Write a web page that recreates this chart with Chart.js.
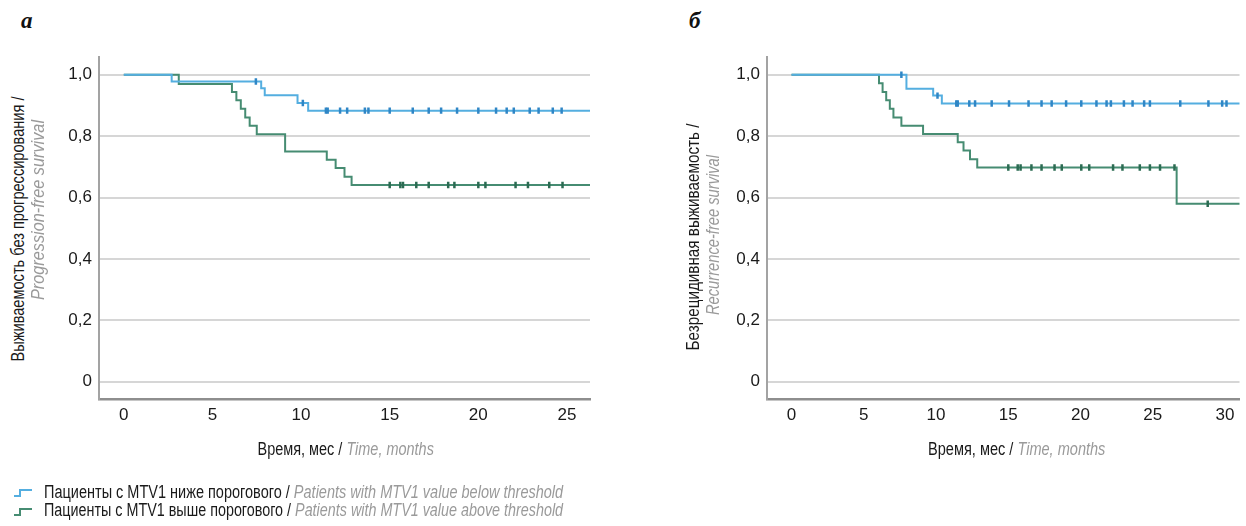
<!DOCTYPE html>
<html>
<head>
<meta charset="utf-8">
<script src="https://cdn.jsdelivr.net/npm/chart.js@4.4.1/dist/chart.umd.min.js"></script>
<style>
  html, body { margin:0; padding:0; background:#fff; width:1246px; height:526px; overflow:hidden; }
  body { position:relative; font-family:"Liberation Sans","Arial",sans-serif; color:#1a1a1a; }
  .abs { position:absolute; }
  .panel { font-family:"Liberation Serif","DejaVu Serif",serif; font-weight:bold; font-style:italic; font-size:23px; color:#111; }
  .fit { position:absolute; white-space:nowrap; font-size:18px; line-height:1; }
  .gray { color:#9a9a9a; font-style:italic; }
</style>
</head>
<body>
<script>
// ---------- DATA ----------
// Panel а: progression-free survival (time, months)
const pfsLowTimes  = [0, 2.7, 7.75, 7.95, 9.8, 10.4, 27];
const pfsLowSurv   = [1, 0.978, 0.956, 0.933, 0.908, 0.883, 0.883];
const pfsLowCensor = [7.45, 10.1, 11.4, 11.5, 12.2, 12.6, 13.6, 13.8, 15.0, 16.3, 17.2, 17.9, 18.8, 20.0, 21.0, 21.6, 22.0, 22.9, 23.4, 24.2, 24.7];

const pfsHighTimes  = [0, 3.1, 6.1, 6.35, 6.6, 6.85, 7.1, 7.5, 9.1, 11.45, 11.95, 12.45, 12.85, 27];
const pfsHighSurv   = [1, 0.97, 0.944, 0.917, 0.889, 0.861, 0.834, 0.806, 0.750, 0.723, 0.696, 0.668, 0.641, 0.641];
const pfsHighCensor = [15.0, 15.6, 15.75, 16.5, 17.2, 18.3, 18.65, 20.0, 20.4, 22.1, 22.8, 24.0, 24.75];

// Panel б: recurrence-free survival
const rfsLowTimes  = [0, 7.95, 9.8, 10.4, 32];
const rfsLowSurv   = [1, 0.954, 0.932, 0.906, 0.906];
const rfsLowCensor = [7.6, 10.1, 11.4, 11.5, 12.3, 12.7, 13.85, 15.05, 16.4, 17.3, 18.0, 19.0, 20.05, 21.1, 21.8, 22.1, 23.0, 23.6, 24.4, 24.8, 26.9, 28.85, 29.8, 30.1];

const rfsHighTimes  = [0, 6.05, 6.3, 6.55, 6.8, 7.05, 7.6, 9.1, 11.5, 11.9, 12.35, 12.85, 26.65, 32];
const rfsHighSurv   = [1, 0.972, 0.944, 0.917, 0.889, 0.861, 0.834, 0.807, 0.78, 0.753, 0.725, 0.698, 0.58, 0.58];
const rfsHighCensor = [15.0, 15.65, 15.85, 16.6, 17.3, 18.2, 18.7, 20.05, 20.6, 22.25, 22.9, 24.1, 24.8, 25.5, 26.5, 28.8];

const yTicks = [0, 0.2, 0.4, 0.6, 0.8, 1.0];
const yTickLabels = ['0', '0,2', '0,4', '0,6', '0,8', '1,0'];
const xTicksA = [0, 5, 10, 15, 20, 25];
const xTicksB = [0, 5, 10, 15, 20, 25, 30];

const blue = '#54aee0', blueDark = '#2f86c6';
const green = '#468c72', greenDark = '#2b6b52';
const FONT = '"Liberation Sans","Arial",sans-serif';

function levelAt(T, S, t) { let v = S[0]; for (let i = 0; i < T.length; i++) { if (T[i] <= t) v = S[i]; } return v; }
function curve(T, S) { return T.map((t, i) => ({x: t, y: S[i]})); }
function cens(T, S, C) { return C.map(t => ({x: t, y: levelAt(T, S, t)})); }

function makeChart(cfg) {
  const wrap = document.createElement('div');
  wrap.className = 'abs';
  wrap.style.left = cfg.left + 'px'; wrap.style.top = cfg.top + 'px';
  wrap.style.width = cfg.w + 'px'; wrap.style.height = cfg.h + 'px';
  const cv = document.createElement('canvas');
  cv.width = cfg.w; cv.height = cfg.h;
  wrap.appendChild(cv); document.body.appendChild(wrap);
  const line = (data, color) => ({type:'line', data, borderColor:color, borderWidth:2, stepped:'before', pointRadius:0, fill:false, order:2});
  const marks = (data, color) => ({type:'scatter', data, borderColor:color, backgroundColor:color, pointStyle:'line', rotation:90, pointRadius:3.2, borderWidth:2.5, order:1});
  new Chart(cv, {
    type:'line',
    data:{datasets:[
      line(curve(cfg.lowT, cfg.lowS), blue),
      line(curve(cfg.highT, cfg.highS), green),
      marks(cens(cfg.lowT, cfg.lowS, cfg.lowC), blueDark),
      marks(cens(cfg.highT, cfg.highS, cfg.highC), greenDark)
    ]},
    options:{
      responsive:false, animation:false, events:[],
      layout:{padding:{left:0, right:cfg.padRight, top:10, bottom:0}},
      plugins:{legend:{display:false}, tooltip:{enabled:false}},
      scales:{
        x:{type:'linear', min:cfg.xmin, max:cfg.xmax,
           afterBuildTicks: s => { s.ticks = cfg.xTicks.map(v => ({value:v})); },
           afterFit: s => { s.height = 41; },
           grid:{display:false, drawTicks:false},
           border:{display:true, color:'#8e8e8e', width:2.5},
           ticks:{font:{family:FONT, size:17}, color:'#1a1a1a', padding:6, maxRotation:0, autoSkip:false, callback:v => String(v)}},
        y:{type:'linear', min:-0.056, max:1.057,
           afterBuildTicks: s => { s.ticks = yTicks.map(v => ({value:v})); },
           afterFit: s => { s.width = cfg.yw; },
           grid:{color:'#d6d6d6', lineWidth:2, drawTicks:false},
           border:{display:true, color:'#a3a3a3', width:2},
           ticks:{font:{family:FONT, size:17}, color:'#1a1a1a', padding:7, autoSkip:false,
                  callback:v => { const i = yTicks.indexOf(v); return i >= 0 ? yTickLabels[i] : ''; }}}
      }
    }
  });
}

makeChart({left:40, top:40, w:560, h:400, yw:59, padRight:10, xmin:-1.4, xmax:26.3, xTicks:xTicksA,
  lowT:pfsLowTimes, lowS:pfsLowSurv, lowC:pfsLowCensor, highT:pfsHighTimes, highS:pfsHighSurv, highC:pfsHighCensor});
makeChart({left:700, top:40, w:546, h:400, yw:67, padRight:0, xmin:-1.7, xmax:31, xTicks:xTicksB,
  lowT:rfsLowTimes, lowS:rfsLowSurv, lowC:rfsLowCensor, highT:rfsHighTimes, highS:rfsHighSurv, highC:rfsHighCensor});
</script>

<div class="abs panel" style="left:21px; top:8px;">а</div>
<div class="abs panel" style="left:689px; top:8px;">б</div>

<!-- data-mode: c = centered horizontal, r = centered rotated, l = left aligned; data-len = target length in px -->
<div class="fit" data-mode="r" data-cx="18" data-cy="229" data-len="265">Выживаемость без прогрессирования /</div>
<div class="fit gray" data-mode="r" data-cx="37" data-cy="210" data-len="180">Progression-free survival</div>
<div class="fit" data-mode="r" data-cx="693" data-cy="237" data-len="227">Безрецидивная выживаемость /</div>
<div class="fit gray" data-mode="r" data-cx="713" data-cy="235" data-len="160">Recurrence-free survival</div>

<div class="fit" data-mode="c" data-cx="345" data-cy="449" data-len="176">Время, мес / <span class="gray">Time, months</span></div>
<div class="fit" data-mode="c" data-cx="1016" data-cy="449" data-len="177">Время, мес / <span class="gray">Time, months</span></div>

<svg class="abs" style="left:13px; top:486px;" width="20" height="12"><polyline points="1,10 7,10 7,4 19,4" fill="none" stroke="#54aee0" stroke-width="2"/></svg>
<svg class="abs" style="left:13px; top:505px;" width="20" height="12"><polyline points="1,10 7,10 7,4 19,4" fill="none" stroke="#468c72" stroke-width="2"/></svg>
<div class="fit" data-mode="l" data-cx="44" data-cy="492" data-len="519">Пациенты с MTV1 ниже порогового / <span class="gray">Patients with MTV1 value below threshold</span></div>
<div class="fit" data-mode="l" data-cx="44" data-cy="510" data-len="519">Пациенты с MTV1 выше порогового / <span class="gray">Patients with MTV1 value above threshold</span></div>

<script>
document.querySelectorAll('.fit').forEach(el => {
  const w = el.offsetWidth, h = el.offsetHeight;
  const s = (+el.dataset.len) / w;
  const cx = +el.dataset.cx, cy = +el.dataset.cy;
  const mode = el.dataset.mode;
  if (mode === 'l') {
    el.style.left = cx + 'px'; el.style.top = (cy - h / 2) + 'px';
    el.style.transformOrigin = '0 50%';
    el.style.transform = 'scaleX(' + s + ')';
  } else {
    el.style.left = (cx - w / 2) + 'px'; el.style.top = (cy - h / 2) + 'px';
    el.style.transformOrigin = '50% 50%';
    el.style.transform = (mode === 'r' ? 'rotate(-90deg) ' : '') + 'scaleX(' + s + ')';
  }
});
</script>
</body>
</html>
